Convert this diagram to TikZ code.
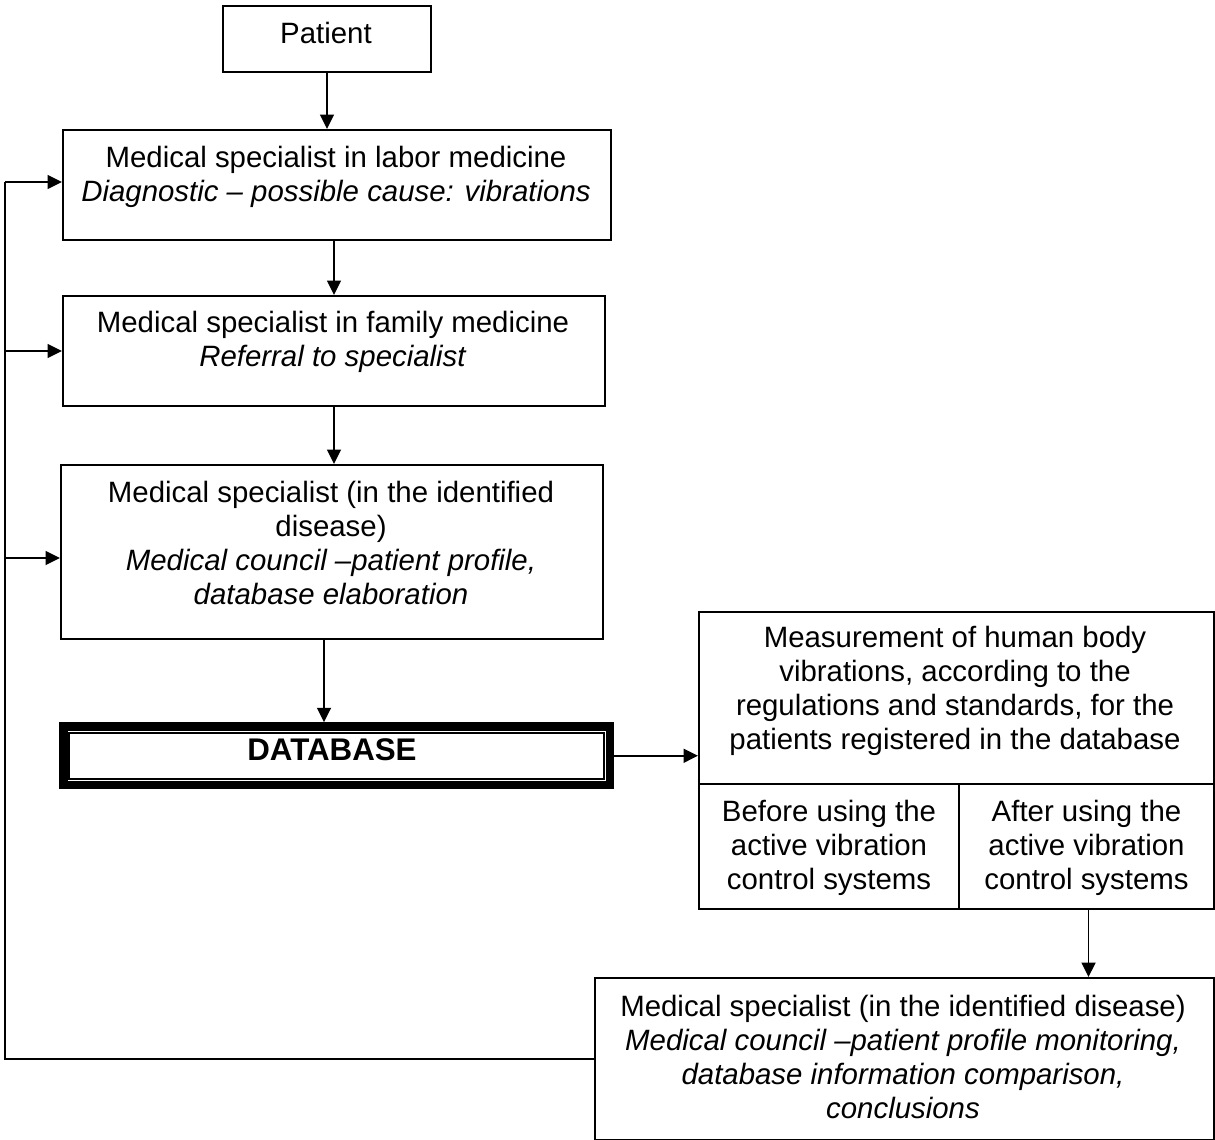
\documentclass[tikz,border=0pt]{standalone}
\usepackage{fontspec}
\setmainfont{Liberation Sans}
\usetikzlibrary{arrows.meta}
\begin{document}
\begin{tikzpicture}[x=1pt,y=-1pt,
  box/.style={draw, line width=2pt, inner sep=0pt, anchor=north west},
  txt/.style={anchor=north, inner sep=0pt, align=center, font=\fontsize{29.4}{34}\selectfont},
  conn/.style={line width=1.8pt},
  arr/.style={line width=1.8pt, -{Triangle[length=14.5pt,width=14pt]}}]
\useasboundingbox (0,0) rectangle (1215,1140);
% boxes
\node[box, minimum width=208, minimum height=66] (pat) at (222,5) {};
\node[box, minimum width=548, minimum height=110] (b1) at (62,129) {};
\node[box, minimum width=542, minimum height=110] (b2) at (62,295) {};
\node[box, minimum width=542, minimum height=174] (b3) at (60,464) {};
\node[draw, line width=8.5pt, inner sep=0pt, anchor=north west, minimum width=546.5, minimum height=58.5] (db) at (59.25,722.25) {};
\node[draw, line width=1.6pt, inner sep=0pt, minimum width=535, minimum height=46] (dbin) at (db.center) {};
\node[box, minimum width=515, minimum height=172] (meas) at (698,611) {};
\node[box, minimum width=260, minimum height=125] (before) at (698,783) {};
\node[box, minimum width=255, minimum height=125] (after) at (958,783) {};
\node[box, minimum width=619, minimum height=162] (fin) at (594,977) {};
% texts
\node[txt] (tpat) at (326,19.2) {\strut Patient};
\node[txt] (t1) at (336,143.2) {\strut Medical specialist in labor medicine\\\textit{Diagnostic – possible cause: vibrations}};
\node[txt] (t2) at (333,308.2) {\strut Medical specialist in family medicine\\\textit{Referral to specialist}};
\node[txt] (t3) at (331,478.2) {\strut Medical specialist (in the identified\\disease)\\\textit{Medical council –patient profile,}\\\textit{database elaboration}};
\node[anchor=base, inner sep=0pt, font=\fontsize{31.3}{36}\selectfont\bfseries] (tdb) at (332,760) {DATABASE};
\node[txt] (tmeas) at (955,623.2) {\strut Measurement of human body\\vibrations, according to the\\regulations and standards, for the\\patients registered in the database};
\node[txt] (tbef) at (before.center |- 0,797.2) {\strut Before using the\\active vibration\\control systems};
\node[txt] (taft) at (after.center |- 0,797.2) {\strut After using the\\active vibration\\control systems};
\node[txt] (tfin) at (903,992.2) {\strut Medical specialist (in the identified disease)\\\textit{Medical council –patient profile monitoring,}\\\textit{database information comparison,}\\\textit{conclusions}};
% connectors
\draw[arr] (pat.south) -- (pat.south |- b1.north);
\draw[arr] ([xshift=-3pt]b1.south) -- ([xshift=-3pt]b1.south |- b2.north);
\draw[arr] (b2.south) -- (b2.south |- b3.north);
\draw[arr] ([xshift=-8pt]b3.south) -- ([xshift=-8pt]b3.south |- db.north);
\draw[arr] (db.east) -- (db.east -| meas.west);
\draw[arr] ([xshift=2pt]after.south) -- ([xshift=2pt]after.south |- fin.north);
\coordinate (lx) at (5,0);
\draw[conn] (fin.west) -| ([yshift=3pt]lx |- b1.west);
\draw[arr] ([yshift=3pt]lx |- b1.west) -- ([yshift=3pt]b1.west);
\draw[arr] (lx |- b2.west) -- (b2.west);
\draw[arr] ([yshift=-6pt]lx |- b3.west) -- ([yshift=-6pt]b3.west);
\end{tikzpicture}
\end{document}
